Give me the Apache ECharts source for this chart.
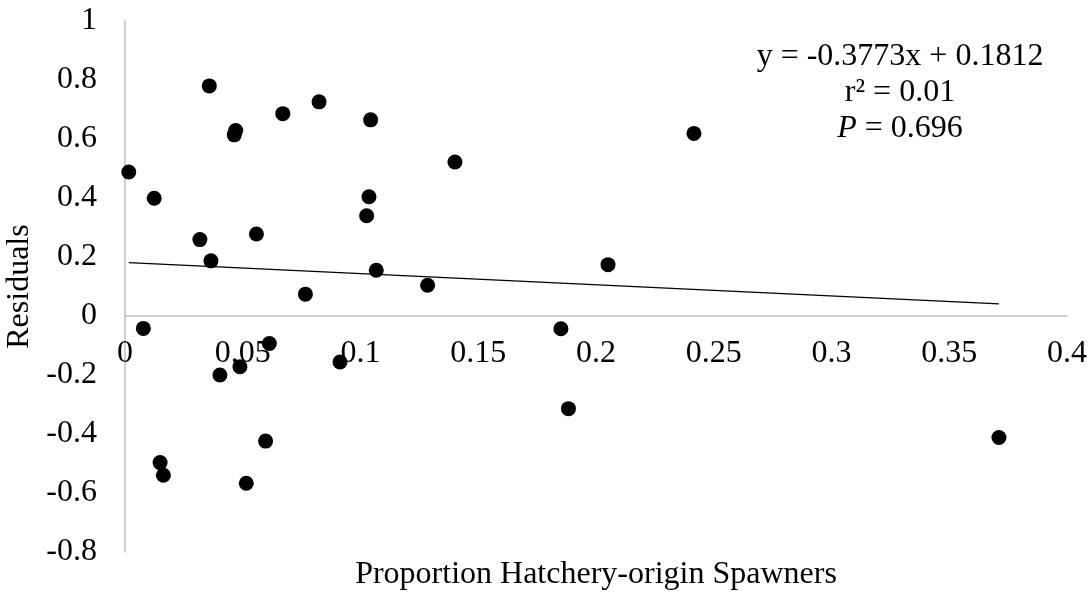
<!DOCTYPE html>
<html>
<head>
<meta charset="utf-8">
<script src="https://cdn.jsdelivr.net/npm/echarts@6/dist/echarts.min.js"></script>
<style>
  html, body { margin: 0; padding: 0; background: #fff; }
  #chart { width: 1091px; height: 597px; }
</style>
</head>
<body>
<div id="chart"></div>
<script>
// residuals vs proportion of hatchery-origin spawners
const propHatchery = [
    0.0358, 0.0470, 0.0464, 0.0670, 0.0824, 0.1043, 0.0016, 0.0124,
    0.1036, 0.1026, 0.0318, 0.0558, 0.0365, 0.1067, 0.0766, 0.0078,
    0.0613, 0.0913, 0.0488, 0.0403, 0.0597, 0.0149, 0.0163, 0.0515,
    0.1401, 0.2416, 0.2051, 0.1285, 0.1851, 0.1883, 0.3711
];
const residuals = [
    0.780, 0.629, 0.614, 0.686, 0.726, 0.665, 0.488, 0.399,
    0.404, 0.340, 0.259, 0.278, 0.187, 0.155, 0.074, -0.042,
    -0.093, -0.156, -0.172, -0.200, -0.424, -0.497, -0.540, -0.567,
    0.522, 0.619, 0.174, 0.104, -0.043, -0.314, -0.412
];
// trend line end points as drawn
const trendX = [0.0016, 0.3711];
const trendY = [0.181, 0.041];

const xTicks = { min: 0, max: 0.4, step: 0.05 };
const yTicks = { min: -0.8, max: 1, step: 0.2 };

const fontFamily = '"Liberation Serif", "Times New Roman", serif';

var gridTop = 21, gridBottom = 45, chartH = 597;

var chart = echarts.init(document.getElementById('chart'));

// x axis sits on y = 0 with its labels, like the excel chart
var plotH = chartH - gridTop - gridBottom;
var zeroOffset = -plotH * (0 - yTicks.min) / (yTicks.max - yTicks.min);

var option = {
    backgroundColor: '#fff',
    animation: false,
    textStyle: { fontFamily: fontFamily },
    grid: {
        left: 125,
        right: 24,
        top: gridTop,
        bottom: gridBottom,
        outerBoundsMode: 'none'
    },
    title: [{
        text: 'y = -0.3773x + 0.1812\nr² = 0.01\n{i|P} = 0.696',
        left: 900,
        top: 39,
        textAlign: 'center',
        padding: 0,
        textStyle: {
            fontFamily: fontFamily,
            fontSize: 32,
            fontWeight: 'normal',
            color: '#000',
            lineHeight: 36,
            rich: {
                i: { fontFamily: fontFamily, fontSize: 32, fontStyle: 'italic', color: '#000', lineHeight: 36 }
            }
        }
    }, {
        text: 'Proportion Hatchery-origin Spawners',
        left: 596,
        top: 559,
        textAlign: 'center',
        padding: 0,
        textStyle: {
            fontFamily: fontFamily,
            fontSize: 32,
            fontWeight: 'normal',
            color: '#000'
        }
    }],
    xAxis: {
        type: 'value',
        min: xTicks.min,
        max: xTicks.max,
        interval: xTicks.step,
        offset: zeroOffset,
        axisLine: {
            show: true,
            onZero: false,
            lineStyle: { color: '#BFBFBF', width: 1.5 }
        },
        axisTick: { show: false },
        splitLine: { show: false },
        axisLabel: {
            margin: 22,
            fontSize: 32,
            color: '#000',
            fontFamily: fontFamily,
            formatter: function (v) { return String(+v.toFixed(2)); }
        }
    },
    yAxis: {
        type: 'value',
        min: yTicks.min,
        max: yTicks.max,
        interval: yTicks.step,
        name: 'Residuals',
        nameLocation: 'middle',
        nameGap: 83,
        nameTextStyle: { fontSize: 32, color: '#000', fontFamily: fontFamily },
        axisLine: {
            show: true,
            onZero: false,
            lineStyle: { color: '#BFBFBF', width: 1.5 }
        },
        axisTick: { show: false },
        splitLine: { show: false },
        axisLabel: {
            margin: 28,
            fontSize: 32,
            color: '#000',
            fontFamily: fontFamily,
            formatter: function (v) { return String(+v.toFixed(2)); }
        }
    },
    series: [{
        name: 'Residuals',
        type: 'scatter',
        symbol: 'circle',
        symbolSize: 15,
        itemStyle: { color: '#000', opacity: 1 },
        data: propHatchery.map(function (x, i) { return [x, residuals[i]]; }),
        z: 3
    }, {
        name: 'Trend',
        type: 'line',
        showSymbol: false,
        lineStyle: { color: '#000', width: 1.3 },
        data: trendX.map(function (x, i) { return [x, trendY[i]]; }),
        z: 2
    }]
};

chart.setOption(option);
</script>
</body>
</html>
